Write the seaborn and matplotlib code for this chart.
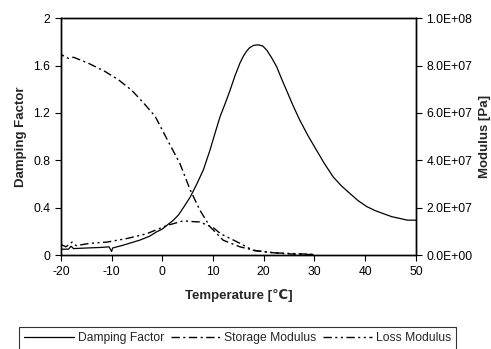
import matplotlib
matplotlib.use("Agg")
import matplotlib.pyplot as plt
import seaborn as sns
import pandas as pd
from matplotlib.ticker import FuncFormatter

sns.set_style("ticks")
plt.rcParams['font.family'] = ['Liberation Sans', 'DejaVu Sans']
plt.rcParams['axes.unicode_minus'] = False

# Damping factor (tan delta), left axis
temp_df = [-20, -18.5, -18, -17.5, -15, -12, -10.5, -10, -9.8, -7.7, -4.4, -2.5, -1.1, 0, 1, 2.2, 3.2, 4.3,
           5.5, 6.8, 8.1, 9.4, 10.4, 11.4, 12.4, 13.35, 14.3, 15.3, 16.0, 16.6, 17.2, 18.0, 18.9, 19.8,
           20.6, 21.5, 22.55, 23.5, 24.5, 25.8, 27.1, 28.7, 30.4, 32, 33.7, 35.3, 37, 38.6, 40.3,
           42, 43.6, 45.2, 46.8, 48.3, 50]
damping = [0.05, 0.05, 0.075, 0.055, 0.06, 0.065, 0.07, 0.03, 0.06, 0.084, 0.127, 0.16, 0.197, 0.22, 0.255,
           0.295, 0.34, 0.41, 0.49, 0.6, 0.72, 0.886, 1.03, 1.17, 1.28, 1.39, 1.51, 1.62, 1.68, 1.72,
           1.75, 1.77, 1.775, 1.765, 1.73, 1.67, 1.59, 1.49, 1.39, 1.26, 1.14, 1.01, 0.886, 0.77,
           0.66, 0.585, 0.52, 0.46, 0.41, 0.375, 0.35, 0.325, 0.31, 0.295, 0.295]

# Storage modulus [Pa], right axis
temp_sm = [-20, -19.8, -18.5, -17.5, -14.6, -11.3, -8.65, -6.0, -3.4, -1.4, 0.3, 3.5, 5.5, 7.4, 9.4,
           12.0, 15.3, 18.6, 21.9, 25, 30]
storage = [8.2e7, 8.45e7, 8.3e7, 8.35e7, 8.1e7, 7.75e7, 7.4e7, 6.95e7, 6.35e7, 5.85e7, 5.15e7,
           3.85e7, 2.75e7, 1.9e7, 1.2e7, 6.3e6, 3.5e6, 1.8e6, 1.0e6, 5e5, 2e5]

# Loss modulus [Pa], right axis
temp_lm = [-20, -19, -17.8, -17, -14.2, -10.9, -7, -3.1, 0.9, 4.2, 5.5, 7.4, 10.1, 11.5, 13.4, 15.3,
           17.9, 21.9, 25.2, 30]
loss = [4.5e6, 3.5e6, 5.5e6, 4.0e6, 5.0e6, 5.5e6, 7.0e6, 9.0e6, 1.25e7, 1.45e7, 1.42e7, 1.4e7,
        1.15e7, 9.0e6, 7.0e6, 5.0e6, 2.0e6, 1.0e6, 7e5, 3e5]

df1 = pd.DataFrame({"T": temp_df, "v": damping})
df2 = pd.DataFrame({"T": temp_sm, "v": storage})
df3 = pd.DataFrame({"T": temp_lm, "v": loss})

fig = plt.figure(figsize=(4.91, 3.49), dpi=100)
ax = fig.add_axes([0.124, 0.269, 0.723, 0.679])
ax2 = ax.twinx()

sns.lineplot(data=df1, x="T", y="v", ax=ax, color="black", lw=0.9, label="Damping Factor", legend=False)
sns.lineplot(data=df2, x="T", y="v", ax=ax2, color="black", lw=1.0, label="Storage Modulus", legend=False,
             linestyle=(0, (6, 2.5, 1.5, 2.5)))
sns.lineplot(data=df3, x="T", y="v", ax=ax2, color="black", lw=1.0, label="Loss Modulus", legend=False,
             linestyle=(0, (6, 2.5, 1.5, 2.5, 1.5, 2.5)))

ax.set_xlim(-20, 50)
ax.set_ylim(0, 2)
ax2.set_ylim(0, 1e8)
ax.set_xticks(range(-20, 51, 10))
ax.set_yticks([0, 0.4, 0.8, 1.2, 1.6, 2])
ax.set_yticklabels(["0", "0.4", "0.8", "1.2", "1.6", "2"])
ax2.set_yticks([0, 2e7, 4e7, 6e7, 8e7, 1e8])
ax2.yaxis.set_major_formatter(FuncFormatter(lambda v, p: "%.1E" % v))

for a in (ax, ax2):
    for s in a.spines.values():
        s.set_color("black")
        s.set_linewidth(1.0)
    a.tick_params(axis="both", direction="out", length=4, width=0.8, colors="black", labelsize=8.7)

ax.set_xlabel("Temperature [℃]", fontsize=9.5, fontweight="bold", labelpad=8)
ax.set_ylabel("Damping Factor", fontsize=9.5, fontweight="bold", labelpad=5)
ax2.set_ylabel("Modulus [Pa]", fontsize=9.5, fontweight="bold", labelpad=5)

h1, l1 = ax.get_legend_handles_labels()
h2, l2 = ax2.get_legend_handles_labels()
leg = fig.legend(h1 + h2, l1 + l2, loc="upper left", bbox_to_anchor=(19 / 491, 1 - 327 / 349), ncol=3,
                 frameon=True, fancybox=False, edgecolor="black", fontsize=8.7,
                 handlelength=4.1, handletextpad=0.3, columnspacing=0.55, borderpad=0.45, borderaxespad=0)
leg.get_frame().set_linewidth(0.8)

fig.savefig("out.png", dpi=100)
